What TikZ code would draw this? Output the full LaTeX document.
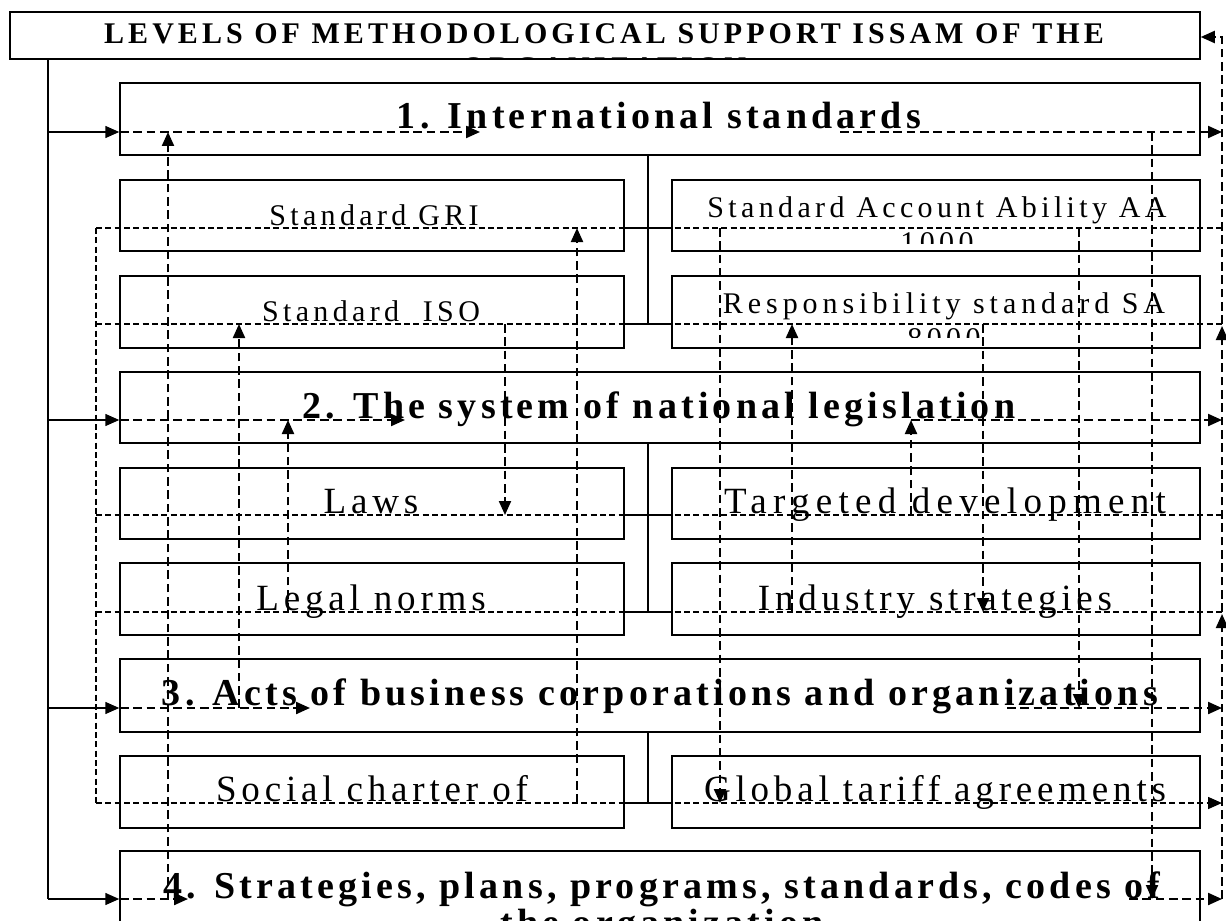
\documentclass[tikz,border=0pt]{standalone}
\usepackage{fontspec}
\setmainfont{Liberation Serif}
\newfontfamily\capsfont[LetterSpace=13.5]{Liberation Serif}
\newfontfamily\lvlfont[LetterSpace=11]{Liberation Serif}
\newfontfamily\plainfont[LetterSpace=13]{Liberation Serif}
\newfontfamily\smallfont[LetterSpace=14.5]{Liberation Serif}
\usetikzlibrary{arrows.meta,fit}

\tikzset{every picture/.style={line width=0.75pt}}
\tikzset{
  box/.style={draw, line width=1.1pt, inner sep=0pt},
  link/.style={line width=1.1pt},
  tri/.style={-{Triangle[length=10.5pt,width=9pt]}},
  dline/.style={line width=1.6pt, dash pattern=on 6.5pt off 3.5pt},
  tline/.style={line width=1.2pt, dash pattern=on 4.5pt off 2.5pt},
  headtext/.style={font=\capsfont\bfseries\fontsize{22.5}{25.9}\selectfont, inner sep=0pt, align=center},
  lvltext/.style={font=\lvlfont\bfseries\fontsize{28.5}{32.8}\selectfont, inner sep=0pt, align=center},
  itemtext/.style={font=\plainfont\fontsize{27.75}{31.9}\selectfont, inner sep=0pt},
  smalltext/.style={font=\smallfont\fontsize{22.5}{26}\selectfont, inner sep=0pt, align=center},
}

\begin{document}
\begin{tikzpicture}[x=0.75pt,y=0.75pt,yscale=-1,xscale=1]
\clip (0,0) rectangle (1226,920);

% boxes
\node[box, fit={(10,12) (1200,59)}] (title) {};
\node[box, fit={(120,83) (1200,155)}] (lvlA) {};
\node[box, fit={(120,180) (624,251)}] (gri) {};
\node[box, fit={(672,180) (1200,251)}] (aa) {};
\node[box, fit={(120,276) (624,348)}] (iso) {};
\node[box, fit={(672,276) (1200,348)}] (sa) {};
\node[box, fit={(120,372) (1200,443)}] (lvlB) {};
\node[box, fit={(120,468) (624,539)}] (laws) {};
\node[box, fit={(672,468) (1200,539)}] (target) {};
\node[box, fit={(120,563) (624,635)}] (legal) {};
\node[box, fit={(672,563) (1200,635)}] (industry) {};
\node[box, fit={(120,659) (1200,732)}] (lvlC) {};
\node[box, fit={(120,756) (624,828)}] (charter) {};
\node[box, fit={(672,756) (1200,828)}] (tariff) {};
\node[box, fit={(120,851) (1200,960)}] (lvlD) {};

% texts
\begin{scope}
\clip (title.north west) rectangle (1200,58);
\node[headtext, anchor=north] (titletext) at (604,22.7) {LEVELS OF METHODOLOGICAL SUPPORT ISSAM OF THE\\ORGANIZATION};
\end{scope}
\node[lvltext, anchor=base] (lvlAtext) at (659,128) {1. International standards};
\node[smalltext, anchor=base] (gritext) at (374,225) {Standard GRI};
\begin{scope}
\clip (aa.north west) rectangle (1200,243);
\node[smalltext, anchor=north] (aatext) at (937,196.4) {Standard Account Ability AA\\1000};
\end{scope}
\node[smalltext, anchor=base] (isotext) at (371,321) {Standard\ \ ISO};
\begin{scope}
\clip (sa.north west) rectangle (1200,337);
\node[smalltext, anchor=north] (satext) at (944,292.4) {\addfontfeature{LetterSpace=16.5}Responsibility standard SA\\8000};
\end{scope}
\node[lvltext, anchor=base] (lvlBtext) at (659,418) {2. The system of national legislation};
\node[itemtext, anchor=base] (lawstext) at (371,513) {Laws};
\node[itemtext, anchor=base] (targettext) at (945,513) {\addfontfeature{LetterSpace=17}Targeted development};
\node[itemtext, anchor=base] (legaltext) at (371,610) {Legal norms};
\node[itemtext, anchor=base] (industrytext) at (935,610) {Industry strategies};
\node[lvltext, anchor=base] (lvlCtext) at (660,705) {3. Acts of business corporations and organizations};
\node[itemtext, anchor=base] (chartertext) at (372,801) {Social charter of};
\node[itemtext, anchor=base] (tarifftext) at (935,801) {Global tariff agreements};
\node[lvltext, anchor=north] (lvlDtext) at (662,870.8) {4. Strategies, plans, programs, standards, codes of\\[-5pt]the organization};

% solid links
\coordinate (trunk) at (48,59);
\coordinate (rowA) at (48,132);
\coordinate (rowB) at (48,420);
\coordinate (rowC) at (48,708);
\coordinate (rowD) at (48,899);
\draw[link] (trunk) -- (rowD);
\foreach \r/\b in {rowA/lvlA, rowB/lvlB, rowC/lvlC, rowD/lvlD}
  \draw[link, tri] (\r) -- (\r -| \b.west);

\coordinate (jA) at (648,228);
\coordinate (jB) at (648,324);
\coordinate (jC) at (648,515);
\coordinate (jD) at (648,612);
\coordinate (jE) at (648,803);
\draw[link] (jA |- lvlA.south) -- (jB);
\draw[link] (jA -| gri.east) -- (jA -| aa.west);
\draw[link] (jB -| iso.east) -- (jB -| sa.west);
\draw[link] (jC |- lvlB.south) -- (jD);
\draw[link] (jC -| laws.east) -- (jC -| target.west);
\draw[link] (jD -| legal.east) -- (jD -| industry.west);
\draw[link] (jE |- lvlC.south) -- (jE);
\draw[link] (jE -| charter.east) -- (jE -| tariff.west);

% dashed feedback lines
\draw[tline] (96,228) -- (96,803);
\draw[tline] (96,228) -- (1222,228);
\draw[tline] (96,324) -- (1222,324);
\draw[tline] (96,515) -- (1222,515);
\draw[tline] (96,612) -- (1222,612);
\draw[tline, tri] (96,803) -- (1222,803);

\draw[dline, tri] (120,132) -- (480,132);
\draw[dline, tri] (120,420) -- (405,420);
\draw[dline, tri] (120,708) -- (310,708);
\draw[dline, tri] (120,899) -- (188,899);
\draw[dline, tri] (840,132) -- (1222,132);
\draw[dline, tri] (911,420) -- (1222,420);
\draw[dline, tri] (1007,708) -- (1222,708);
\draw[dline, tri] (1129,899) -- (1222,899);

\draw[dline, tri] (168,899) -- (168,132);
\draw[dline, tri] (239,708) -- (239,324);
\draw[dline, tri] (288,612) -- (288,420);
\draw[dline, tri] (505,324) -- (505,515);
\draw[dline, tri] (577,803) -- (577,228);
\draw[dline, tri] (720,228) -- (720,803);
\draw[dline, tri] (792,612) -- (792,324);
\draw[dline, tri] (911,515) -- (911,420);
\draw[dline, tri] (983,324) -- (983,612);
\draw[dline, tri] (1079,228) -- (1079,708);
\draw[dline, tri] (1152,132) -- (1152,899);

\draw[dline, tri] (1222,899) -- (1222,614);
\draw[dline, tri] (1222,612) -- (1222,326);
\draw[dline, tri] (1222,324) -- (1222,37) -- (title.east |- 0,37);
\end{tikzpicture}
\end{document}
